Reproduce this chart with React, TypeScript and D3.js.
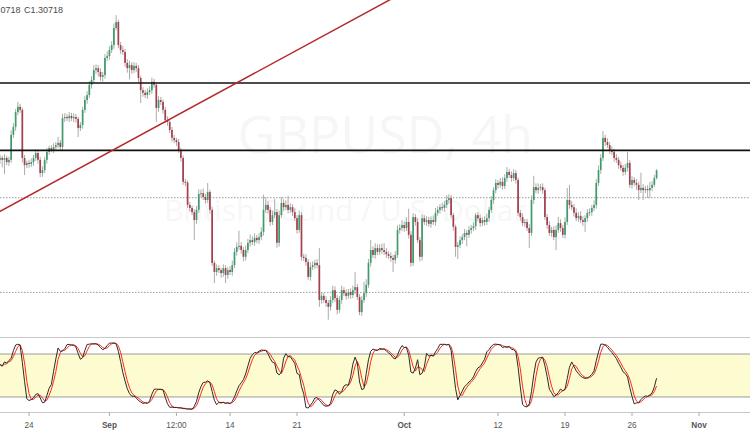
import React from "react";
import * as d3 from "d3";

// ---- data (GBPUSD 4h) ----
const firstOpen = 1.31;
const closes = [
  1.3105, 1.31, 1.3105, 1.3094, 1.31, 1.3166, 1.3187, 1.3226, 1.324, 1.3232,
  1.3105, 1.3086, 1.3092, 1.3089, 1.3094, 1.3105, 1.3118, 1.31, 1.3065, 1.3073,
  1.31, 1.3121, 1.3131, 1.3126, 1.3134, 1.3139, 1.3145, 1.3134, 1.321, 1.3213,
  1.321, 1.3216, 1.321, 1.3213, 1.3208, 1.3184, 1.3192, 1.3232, 1.3258, 1.3271,
  1.3298, 1.3311, 1.3337, 1.3342, 1.3332, 1.3319, 1.3324, 1.3369, 1.3374, 1.339,
  1.3403, 1.3448, 1.3464, 1.3403, 1.339, 1.3385, 1.3356, 1.3342, 1.335, 1.3337,
  1.3348, 1.3342, 1.3316, 1.3284, 1.3277, 1.3271, 1.3279, 1.3284, 1.3306, 1.3298,
  1.3237, 1.3258, 1.3253, 1.3232, 1.3205, 1.32, 1.3179, 1.3158, 1.3152, 1.3147,
  1.3126, 1.3105, 1.3042, 1.304, 1.2981, 1.2973, 1.2962, 1.2941, 1.2968, 1.301,
  1.3012, 1.3002, 1.2994, 1.3015, 1.2968, 1.2828, 1.2804, 1.2814, 1.2809, 1.2801,
  1.2814, 1.2796, 1.2809, 1.2804, 1.2822, 1.2857, 1.287, 1.2873, 1.2862, 1.2844,
  1.2862, 1.2881, 1.2888, 1.2883, 1.2894, 1.2888, 1.2896, 1.291, 1.2968, 1.2981,
  1.2968, 1.2936, 1.2954, 1.2962, 1.2881, 1.2954, 1.2986, 1.2975, 1.2981, 1.2968,
  1.2975, 1.2962, 1.2946, 1.2915, 1.2954, 1.2844, 1.2841, 1.283, 1.2791, 1.2817,
  1.2822, 1.2828, 1.2822, 1.273, 1.2741, 1.273, 1.2722, 1.2712, 1.273, 1.2756,
  1.2735, 1.2704, 1.273, 1.2756, 1.2748, 1.2741, 1.2751, 1.2743, 1.2756, 1.2764,
  1.2738, 1.2698, 1.273, 1.2748, 1.277, 1.2828, 1.2862, 1.2849, 1.2867, 1.2857,
  1.2867, 1.2862, 1.2857, 1.2851, 1.2846, 1.2841, 1.2836, 1.2849, 1.2915, 1.292,
  1.2928, 1.292, 1.2936, 1.2902, 1.2828, 1.2949, 1.2936, 1.2888, 1.2844, 1.2946,
  1.2936, 1.2941, 1.2931, 1.2941, 1.2936, 1.296, 1.2968, 1.2975, 1.2973, 1.2981,
  1.2994, 1.2999, 1.2954, 1.2923, 1.287, 1.2875, 1.2888, 1.2896, 1.2907, 1.2902,
  1.2915, 1.292, 1.2925, 1.2954, 1.2946, 1.2933, 1.2941, 1.2936, 1.2946, 1.2968,
  1.2994, 1.302, 1.3039, 1.3034, 1.3042, 1.3031, 1.3052, 1.3068, 1.306, 1.3052,
  1.3065, 1.3047, 1.296, 1.2949, 1.2933, 1.2936, 1.292, 1.2907, 1.2994, 1.3028,
  1.302, 1.3026, 1.3028, 1.302, 1.2949, 1.2928, 1.2907, 1.2915, 1.2896, 1.2915,
  1.2933, 1.292, 1.2902, 1.2936, 1.2994, 1.2981, 1.2975, 1.296, 1.2946, 1.2952,
  1.2941, 1.2936, 1.2946, 1.296, 1.2962, 1.2973, 1.2981, 1.3039, 1.3073, 1.3105,
  1.3158, 1.3147, 1.3139, 1.3126, 1.3121, 1.3105, 1.31, 1.3086, 1.3079, 1.3068,
  1.3079, 1.3092, 1.3034, 1.3047, 1.3039, 1.3034, 1.302, 1.3026, 1.302, 1.3023,
  1.302, 1.3026, 1.3034, 1.3052, 1.30718,
];
// upper / lower shadow lengths in pips
const wickUp = [
  8, 6, 10, 6, 8, 12, 10, 8, 13, 8,
  6, 8, 6, 8, 10, 8, 10, 6, 8, 10,
  8, 10, 6, 8, 10, 8, 16, 8, 12, 10,
  8, 10, 8, 10, 8, 6, 8, 8, 10, 10,
  10, 10, 13, 10, 8, 10, 8, 10, 12, 10,
  10, 12, 18, 6, 8, 10, 8, 10, 12, 8,
  10, 8, 8, 6, 8, 8, 10, 10, 11, 8,
  6, 10, 8, 6, 8, 10, 6, 8, 8, 6,
  8, 6, 6, 8, 6, 8, 6, 8, 10, 12,
  10, 12, 8, 24, 6, 8, 6, 10, 8, 6,
  10, 8, 8, 10, 12, 10, 12, 40, 10, 8,
  12, 10, 15, 10, 12, 8, 10, 12, 40, 20,
  10, 8, 12, 35, 8, 12, 16, 10, 12, 24,
  10, 8, 10, 8, 12, 8, 8, 10, 8, 12,
  10, 8, 10, 45, 10, 8, 10, 8, 10, 12,
  10, 8, 10, 12, 8, 10, 8, 10, 12, 40,
  8, 8, 10, 30, 15, 10, 26, 10, 13, 10,
  10, 12, 18, 10, 8, 10, 8, 10, 12, 10,
  13, 10, 12, 35, 10, 10, 8, 10, 8, 10,
  8, 10, 8, 10, 12, 13, 10, 8, 12, 10,
  13, 10, 8, 6, 6, 8, 10, 8, 10, 8,
  10, 8, 10, 6, 8, 10, 8, 10, 12, 8,
  10, 8, 10, 8, 10, 12, 10, 13, 8, 10,
  10, 8, 6, 8, 10, 8, 8, 10, 12, 30,
  10, 12, 8, 10, 6, 8, 10, 8, 10, 12,
  16, 10, 8, 12, 32, 40, 10, 8, 12, 10,
  12, 10, 8, 10, 10, 8, 12, 10, 12, 10,
  18, 8, 10, 8, 10, 8, 10, 8, 10, 8,
  10, 29, 8, 10, 8, 10, 8, 40, 10, 8,
  10, 16, 10, 8, 4,
];
const wickDn = [
  10, 20, 38, 8, 10, 8, 8, 10, 8, 8,
  12, 26, 8, 10, 8, 10, 8, 10, 11, 10,
  8, 10, 8, 6, 8, 10, 8, 10, 8, 10,
  8, 10, 8, 10, 10, 24, 8, 10, 8, 10,
  8, 10, 8, 10, 12, 10, 13, 10, 8, 10,
  8, 10, 6, 8, 10, 8, 10, 12, 30, 10,
  8, 10, 12, 34, 10, 8, 10, 8, 10, 8,
  37, 10, 8, 10, 8, 10, 8, 10, 8, 10,
  8, 10, 8, 10, 8, 10, 8, 53, 10, 8,
  10, 8, 10, 8, 10, 8, 29, 10, 8, 12,
  10, 21, 10, 8, 10, 8, 10, 8, 10, 12,
  10, 8, 10, 8, 10, 8, 10, 8, 10, 8,
  10, 10, 8, 8, 13, 10, 8, 10, 8, 10,
  8, 10, 8, 10, 8, 10, 8, 10, 8, 10,
  8, 10, 8, 18, 10, 8, 10, 34, 10, 8,
  10, 12, 8, 10, 8, 10, 8, 10, 8, 10,
  8, 8, 10, 8, 10, 8, 10, 8, 10, 8,
  8, 10, 8, 10, 8, 10, 32, 10, 8, 10,
  8, 10, 8, 10, 10, 8, 10, 8, 12, 10,
  8, 10, 8, 10, 8, 10, 8, 10, 8, 10,
  8, 10, 8, 10, 26, 32, 8, 10, 8, 30,
  8, 10, 8, 10, 8, 10, 8, 10, 8, 10,
  8, 10, 8, 10, 8, 10, 8, 10, 8, 10,
  8, 10, 8, 10, 8, 10, 8, 40, 8, 10,
  8, 10, 8, 10, 8, 10, 8, 10, 8, 34,
  8, 10, 8, 10, 8, 10, 8, 10, 8, 10,
  8, 10, 26, 10, 8, 10, 8, 10, 8, 10,
  8, 10, 8, 10, 8, 10, 8, 10, 8, 10,
  8, 10, 8, 10, 8, 13, 26, 8, 26, 8,
  21, 21, 8, 6, 4,
];
const solidLevels = [1.3303, 1.3125];
const dottedLevels = [1.3, 1.275];
const trendStart = { i: 0, p: 1.2964 };
const trendEnd = { i: 174.4, p: 1.3522 };
const tickIndex = [13, 49, 79, 103, 133, 181, 223, 253, 283, 313];
const tickLabels = ["24", "Sep", "12:00", "14", "21", "Oct", "12", "19", "26", "Nov"];
const monthLabels = ["Sep", "Oct", "Nov"];
const stochLevels = [80, 20];
const legendHighTail = "0718";
const legendClose = "C1.30718";
const watermark1 = "GBPUSD, 4h";
const watermark2 = "British Pound / U.S. Dollar";

// ---- layout ----
const W = 750;
const H = 430;
const mainBottom = 337;
const stTop = 338;
const stBottom = 412.5;

const UP = "#3f9a6c";
const DOWN = "#a53f4c";
const WICK = "#ababab";

export default function App() {
  const candles = closes.map((c, i) => {
    const o = i === 0 ? firstOpen : closes[i - 1];
    const h = Math.max(o, c) + wickUp[i] / 10000;
    const l = Math.min(o, c) - wickDn[i] / 10000;
    return { i, o, h, l, c };
  });

  const x = d3.scaleLinear().domain([0, 313]).range([0, 699]);
  const y = d3.scaleLinear().domain([1.26323, 1.3522]).range([mainBottom, 0]);
  const ys = d3.scaleLinear().domain([0, 100]).range([411.3, 339.7]);

  // stochastic 14,3,3
  const raw = candles.map((d, i) => {
    const win = candles.slice(Math.max(0, i - 13), i + 1);
    const hh = d3.max(win, (w) => w.h) as number;
    const ll = d3.min(win, (w) => w.l) as number;
    return hh === ll ? 50 : (100 * (d.c - ll)) / (hh - ll);
  });
  const sma = (arr: number[], p: number) =>
    arr.map((_, i) => d3.mean(arr.slice(Math.max(0, i - p + 1), i + 1)) as number);
  const kLine = sma(raw, 3);
  const dLine = sma(kLine, 3);

  const line = d3
    .line<number>()
    .x((_, i) => x(i))
    .y((v) => ys(v))
    .curve(d3.curveLinear);

  const bw = 1.7;
  const slope = (trendEnd.p - trendStart.p) / (trendEnd.i - trendStart.i);

  return (
    <div style={{ position: "absolute", left: 0, top: 0, width: W, height: H, background: "#fff" }}>
      <svg width={W} height={H} style={{ display: "block" }} fontFamily="'Liberation Sans', Arial, sans-serif">
        <defs>
          <clipPath id="mainClip">
            <rect x={0} y={0} width={W} height={mainBottom} />
          </clipPath>
          <clipPath id="stClip">
            <rect x={0} y={stTop} width={W} height={stBottom - stTop} />
          </clipPath>
        </defs>
        <rect x={0} y={0} width={W} height={H} fill="#ffffff" />

        {/* watermark */}
        <text x={533} y={153} textAnchor="end" fontSize={52} fill="#f6f6f6" fontFamily="'Open Sans', sans-serif">
          {watermark1}
        </text>
        <text x={345} y={221} textAnchor="middle" fontSize={30} fill="#f7f7f7" fontFamily="'Open Sans', sans-serif">
          {watermark2}
        </text>

        <g clipPath="url(#mainClip)">
          {dottedLevels.map((p, k) => (
            <line key={"d" + k} x1={0} x2={W} y1={y(p)} y2={y(p)} stroke="#9a9a9a" strokeWidth={1} strokeDasharray="1.5,1.5" />
          ))}
          {candles.map((d) => {
            const up = d.c >= d.o;
            const top = y(Math.max(d.o, d.c));
            const bot = y(Math.min(d.o, d.c));
            return (
              <g key={d.i}>
                <line x1={x(d.i)} x2={x(d.i)} y1={y(d.h)} y2={y(d.l)} stroke={WICK} strokeWidth={1} />
                <rect
                  x={x(d.i) - bw / 2}
                  y={top}
                  width={bw}
                  height={Math.max(1, bot - top)}
                  fill={up ? UP : DOWN}
                />
              </g>
            );
          })}
          {solidLevels.map((p, k) => (
            <line key={"s" + k} x1={0} x2={W} y1={y(p)} y2={y(p)} stroke="#111" strokeWidth={1.6} />
          ))}
          <line
            x1={x(trendStart.i - 20)}
            y1={y(trendStart.p - slope * 20)}
            x2={x(trendEnd.i + 20)}
            y2={y(trendEnd.p + slope * 20)}
            stroke="#b3292b"
            strokeWidth={1.5}
          />
        </g>

        {/* legend */}
        <text x={0.5} y={13} fontSize={9} fill="#4a4a4a">{legendHighTail}</text>
        <text x={24} y={13} fontSize={9} fill="#4a4a4a">{legendClose}</text>

        {/* stochastic pane */}
        <line x1={0} x2={W} y1={stTop - 0.5} y2={stTop - 0.5} stroke="#c8c8c8" strokeWidth={1} />
        <rect x={0} y={ys(stochLevels[0])} width={W} height={ys(stochLevels[1]) - ys(stochLevels[0])} fill="#fdfbd0" />
        {stochLevels.map((v) => (
          <line key={v} x1={0} x2={W} y1={ys(v)} y2={ys(v)} stroke="#9b9b9b" strokeWidth={1} />
        ))}
        <g clipPath="url(#stClip)">
          <path d={line(dLine) || ""} fill="none" stroke="#ff2a1a" strokeWidth={1} />
          <path d={line(kLine) || ""} fill="none" stroke="#2b2b2b" strokeWidth={1} />
        </g>

        {/* time axis */}
        <line x1={0} x2={W} y1={stBottom} y2={stBottom} stroke="#c8c8c8" strokeWidth={1.2} />
        {tickIndex.map((ti, k) => (
          <g key={k}>
            <line x1={x(ti)} x2={x(ti)} y1={stBottom} y2={stBottom + 3.5} stroke="#aaa" strokeWidth={1} />
            <text
              x={x(ti)}
              y={428}
              textAnchor="middle"
              fontSize={8.2}
              fill="#555"
              fontWeight={monthLabels.includes(tickLabels[k]) ? "bold" : "normal"}
            >
              {tickLabels[k]}
            </text>
          </g>
        ))}
      </svg>
    </div>
  );
}
